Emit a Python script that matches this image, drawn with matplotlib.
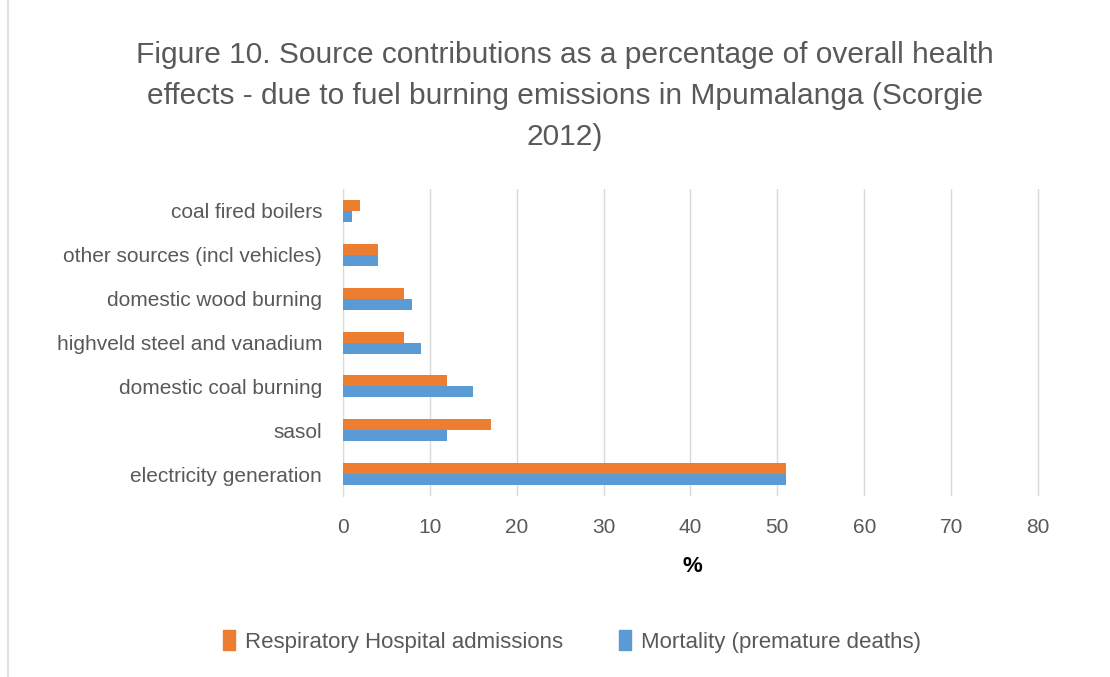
import numpy as np
import matplotlib.pyplot as plt
from matplotlib.lines import Line2D

# Source contributions (%)
sources = ["electricity generation", "sasol", "domestic coal burning",
           "highveld steel and vanadium", "domestic wood burning",
           "other sources (incl vehicles)", "coal fired boilers"]
hospital = [51, 17, 12, 7, 7, 4, 2]
mortality = [51, 12, 15, 9, 8, 4, 1]
xticks = [0, 10, 20, 30, 40, 50, 60, 70, 80]

plt.rcParams['font.family'] = ['Liberation Sans', 'DejaVu Sans']
grey = '#595959'
orange = '#ED7D31'
blue = '#5B9BD5'

fig = plt.figure(figsize=(11.1, 6.77), dpi=100)
ax = fig.add_axes([0.309, 0.267, 0.630, 0.454])

y = np.arange(len(sources))
h = 0.25
ax.barh(y + h / 2, hospital, height=h, color=orange, label="Respiratory Hospital admissions", zorder=3)
ax.barh(y - h / 2, mortality, height=h, color=blue, label="Mortality (premature deaths)", zorder=3)

ax.set_xlim(0, 80.5)
ax.set_ylim(-0.5, len(sources) - 0.5)
ax.set_xticks(xticks)
ax.set_yticks(y)
ax.set_yticklabels(sources)
ax.tick_params(axis='x', length=0, labelsize=15, colors=grey, pad=16)
ax.tick_params(axis='y', length=0, labelsize=15, colors=grey, pad=15)
ax.grid(axis='x', color='#D9D9D9', linewidth=1, zorder=0)
for s in ['top', 'right', 'bottom']:
    ax.spines[s].set_visible(False)
ax.spines['left'].set_color('#D9D9D9')

ax.set_xlabel("%", fontsize=16, fontweight='bold', color='black', labelpad=13)

fig.suptitle("Figure 10. Source contributions as a percentage of overall health\n"
             "effects - due to fuel burning emissions in Mpumalanga (Scorgie\n2012)",
             x=0.509, y=0.94, fontsize=21.5, color=grey, linespacing=1.6)

box = [(-0.3, -0.5), (0.3, -0.5), (0.3, 0.5), (-0.3, 0.5), (-0.3, -0.5)]
handles = [Line2D([], [], marker=box, linestyle='', color=orange, markersize=15),
           Line2D([], [], marker=box, linestyle='', color=blue, markersize=15)]
fig.legend(handles, ["Respiratory Hospital admissions", "Mortality (premature deaths)"],
           loc='center', bbox_to_anchor=(0.514, 0.051), ncol=2, frameon=False,
           fontsize=16, labelcolor=grey, handlelength=0.8, handletextpad=0.3,
           columnspacing=2.4)

# chart area border on the left
fig.add_artist(Line2D([0.007, 0.007], [0.0, 1.0], color='#D9D9D9', linewidth=1.2))

fig.savefig("out.png", dpi=100)
